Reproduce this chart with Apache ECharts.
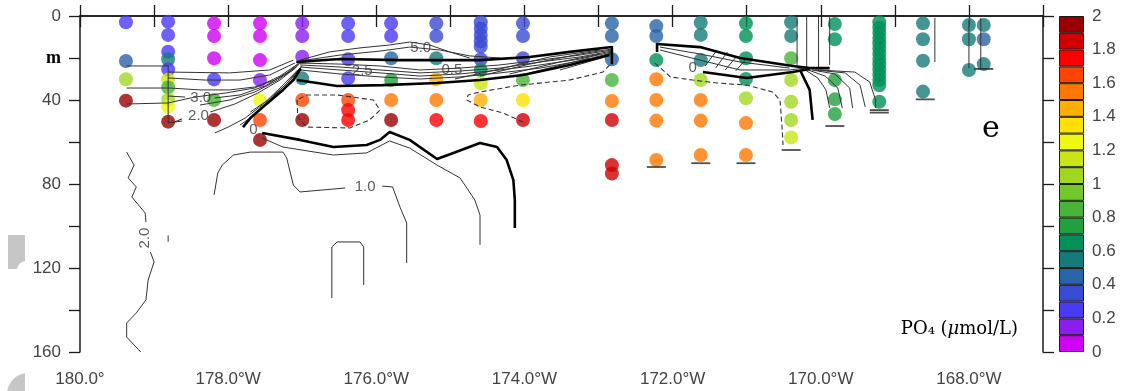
<!DOCTYPE html>
<html>
<head>
<meta charset="utf-8">
<script src="https://cdn.jsdelivr.net/npm/echarts@6/dist/echarts.min.js"></script>
<style>
  html, body { margin: 0; padding: 0; background: #fff; }
  #chart { width: 1126px; height: 391px; }
</style>
</head>
<body>
<div id="chart"></div>
<script>
// Station longitudes (degrees W) along the section
const stationLon = [179.38, 178.81, 178.19, 177.57, 177.0, 176.38, 175.80, 175.19, 174.59, 174.02,
                    172.82, 172.22, 171.62, 171.01, 170.40, 169.81, 169.21, 168.62, 168.0, 167.80];

// Sample depths (m) at each station
const stationDepth = [
  [3, 21.4, 30.1, 40.3],
  [2.7, 9, 17, 20.6, 25.4, 30.2, 34, 39.7, 43.2, 50.3],
  [3.5, 9.5, 20.1, 30.2, 40, 49.5],
  [3.5, 9.5, 21, 30.5, 40, 49.5, 59],
  [3.5, 9.5, 19.4, 29.7, 40, 49.5],
  [3.5, 9.5, 20.6, 29.7, 40, 44.8, 49.5],
  [3.5, 9.5, 20.1, 30.5, 40, 49.5],
  [3.5, 9.5, 20.1, 30.2, 40, 49.5],
  [3, 6, 9, 12, 14.5, 20.6, 25.7, 32, 40, 50],
  [3.5, 9.5, 20.1, 30.5, 40, 49.5],
  [3.5, 9.5, 20.6, 30.5, 40.5, 49.5, 71, 75],
  [4.8, 9.5, 21, 30.1, 40, 49.8, 68.6],
  [3.2, 9, 21, 30.5, 40, 49.8, 66.2],
  [3.5, 9.5, 20.1, 30, 39.2, 51, 66.2],
  [3, 9.5, 20.1, 30.5, 40.8, 49.5, 57.8],
  [3.8, 11.1, 30.5, 39.7, 46.7],
  [3, 5.5, 8, 10.5, 13, 15.5, 18, 20.5, 23, 25.5, 28, 30.5, 33, 40.8],
  [3.5, 11.1, 21.3, 36],
  [4.3, 11.1, 25.7],
  [4.3, 11.1, 22.9]
];

// PO4 (umol/L) at each sample
const stationPO4 = [
  [0.25, 0.45, 1.05, 1.95],
  [0.25, 0.25, 0.25, 0.55, 0.25, 1.15, 0.85, 1.05, 1.25, 1.95],
  [0.05, 0.05, 0.05, 0.25, 0.85, 1.95],
  [0.05, 0.05, 0.05, 0.15, 1.25, 1.65, 1.95],
  [0.15, 0.15, 0.15, 0.55, 1.65, 1.95],
  [0.25, 0.25, 0.25, 0.25, 1.65, 1.75, 1.75],
  [0.25, 0.25, 0.45, 0.75, 1.55, 1.95],
  [0.35, 0.35, 0.55, 1.45, 1.55, 1.75],
  [0.35, 0.35, 0.35, 0.35, 0.35, 0.35, 0.65, 1.15, 1.45, 1.75],
  [0.35, 0.35, 0.35, 0.85, 1.35, 1.85],
  [0.45, 0.45, 0.45, 0.85, 1.55, 1.85, 1.85, 1.85],
  [0.45, 0.45, 0.65, 1.55, 1.55, 1.55, 1.55],
  [0.55, 0.55, 0.55, 1.05, 1.55, 1.55, 1.55],
  [0.65, 0.65, 0.65, 0.65, 1.05, 1.55, 1.55],
  [0.55, 0.55, 0.85, 1.05, 1.05, 1.05, 1.15],
  [0.65, 0.65, 0.75, 0.75, 0.75],
  [0.65, 0.65, 0.65, 0.65, 0.65, 0.65, 0.65, 0.65, 0.65, 0.65, 0.65, 0.65, 0.65, 0.65],
  [0.55, 0.55, 0.55, 0.55],
  [0.55, 0.55, 0.55],
  [0.55, 0.45, 0.55]
];

// Bottom depth markers
const bottomLon = [172.22, 171.62, 171.01, 170.40, 169.81, 169.21, 169.21, 168.59, 167.80];
const bottomDepth = [71.9, 70.1, 70.1, 63.8, 52.4, 44.8, 46.0, 39.7, 25.2];

// Colour scale, 0.1 umol/L per step from 0 to 2
const po4Step = 0.1;
const po4Colors = ['#d000f8', '#8a1ef0', '#4a3af8', '#3a4ad2', '#2864a8', '#177a7a', '#009058',
                   '#22a040', '#4ab43a', '#72c82a', '#a0d820', '#c8e614', '#eef810', '#ffe000',
                   '#ffae00', '#ff7800', '#ff4400', '#ff0000', '#d20000', '#9a0000'];

// Axis tick labels
const lonTicks = [180, 178, 176, 174, 172, 170, 168];
const depthTickLabels = { 0: '0', 20: '{m|m}', 40: '40', 80: '80', 120: '120', 160: '160' };

// Contour lines of the overlaid field, [lon W, depth m]
const thinContours = [
  [[179.37, 23.8], [178.81, 23.8], [178.81, 50.9], [178.62, 50.0]],
  [[179.37, 34.3], [178.79, 34.3], [178.38, 35.2], [177.98, 35.2], [177.64, 33.8], [177.37, 30.5], [177.12, 25.7], [176.99, 21.0]],
  [[179.37, 41.9], [178.81, 41.4], [178.45, 38.6], [178.04, 36.7], [177.64, 34.3], [177.30, 28.6], [177.06, 22.9]],
  [[178.81, 38.1], [178.58, 38.6]],
  [[178.18, 39.0], [177.84, 37.6], [177.50, 33.3], [177.19, 26.7], [177.03, 21.9]],
  [[178.76, 50.9], [178.62, 49.0]],
  [[178.24, 45.7], [177.91, 41.9], [177.60, 36.7], [177.30, 30.5], [177.08, 24.3]],
  [[178.18, 55.7], [178.0, 52.9], [177.77, 48.6], [177.54, 42.4], [177.30, 34.3], [177.06, 25.7]],
  [[178.81, 29.5], [178.31, 30.5], [177.84, 30.5], [177.44, 28.1], [177.10, 22.4]],
  [[178.81, 26.7], [177.98, 27.1], [177.44, 25.7], [177.12, 21.0]],
  [[178.38, 42.4], [177.98, 40.0], [177.64, 36.2], [177.33, 30.5], [177.07, 23.8]],
  [[177.70, 45.7], [177.46, 40.0], [177.23, 32.9], [177.03, 24.8]],
  [[177.84, 51.9], [177.64, 47.1], [177.41, 39.0], [177.16, 30.5], [177.00, 23.8]],
  [[177.03, 22.4], [176.49, 22.9], [175.95, 23.8], [175.41, 25.7], [174.87, 24.8], [174.33, 23.3], [173.79, 21.0], [173.25, 18.6], [172.82, 16.2]],
  [[177.03, 23.3], [176.49, 24.3], [175.95, 25.7], [175.41, 27.1], [174.87, 26.2], [174.33, 24.8], [173.79, 21.9], [173.25, 19.5], [172.82, 16.7]],
  [[177.03, 24.3], [176.49, 25.7], [175.95, 27.1], [175.41, 28.6], [174.87, 27.6], [174.33, 25.7], [173.79, 23.3], [173.25, 20.5], [172.82, 17.1]],
  [[177.03, 25.7], [176.49, 27.6], [175.95, 29.0], [175.41, 30.0], [174.87, 29.0], [174.33, 27.1], [173.79, 24.8], [173.25, 21.4], [172.82, 17.6]],
  [[177.03, 21.0], [176.63, 17.1], [176.22, 15.2], [175.82, 13.8], [175.55, 12.4], [175.28, 13.8], [175.01, 17.1], [174.74, 20.0]],
  [[177.03, 21.4], [176.49, 18.6], [175.95, 16.7], [175.55, 14.8], [175.14, 16.2], [174.74, 19.0], [174.33, 20.0]],
  [[174.94, 30.0], [174.33, 25.2], [173.66, 19.5], [172.98, 16.2]],
  [[174.60, 28.6], [173.93, 22.9], [173.25, 18.1], [172.82, 15.7]],
  [[174.20, 27.6], [173.52, 21.9], [172.98, 18.1]],
  [[173.93, 27.1], [173.12, 20.0]],
  [[173.52, 25.7], [172.91, 19.5]],
  [[177.54, 58.1], [177.26, 62.4], [176.58, 66.2], [176.13, 65.2], [175.82, 59.5], [175.55, 62.9], [175.18, 71.0], [174.87, 77.1], [174.67, 87.6], [174.60, 94.8], [174.60, 109.0]],
  [[178.19, 85.2], [178.14, 74.8], [178.08, 71.0], [177.93, 66.2], [177.70, 64.8], [177.26, 64.8], [177.21, 67.6], [177.12, 80.5], [177.03, 83.8], [176.42, 81.9]],
  [[175.92, 81.0], [175.78, 81.4], [175.68, 91.0], [175.59, 98.6], [175.59, 117.6]],
  [[179.37, 64.8], [179.27, 71.0], [179.35, 77.1], [179.24, 81.4], [179.30, 86.2], [179.12, 93.8], [179.11, 98.1]],
  [[179.05, 112.4], [179.0, 117.1], [179.08, 125.7], [179.11, 135.2], [179.24, 141.4], [179.37, 146.2], [179.37, 152.9], [179.18, 160]],
  [[176.60, 134.3], [176.60, 110.0], [176.53, 107.6], [176.22, 107.6], [176.17, 110.0], [176.17, 128.1]],
  [[178.81, 104.5], [178.81, 107.5]],
  [[172.17, 16.2], [171.63, 21.0], [171.09, 25.7], [170.42, 25.7], [170.22, 24.8]],
  [[172.17, 14.8], [171.63, 18.1], [171.09, 21.9], [170.42, 24.8]],
  [[171.56, 23.8], [171.40, 16.2]],
  [[171.42, 24.8], [171.26, 17.1]],
  [[171.29, 25.7], [171.13, 19.0]],
  [[171.15, 26.2], [171.02, 21.0]],
  [[170.21, 25.7], [170.04, 29.5], [169.93, 35.2], [169.88, 43.8]],
  [[170.17, 25.7], [169.94, 28.6], [169.77, 34.3], [169.71, 43.8]],
  [[170.12, 25.7], [169.81, 27.6], [169.61, 34.3], [169.57, 43.8]],
  [[170.08, 25.7], [169.67, 27.1], [169.47, 32.9], [169.40, 43.3]],
  [[170.04, 25.7], [169.54, 26.7], [169.34, 31.4], [169.26, 40.0], [169.26, 43.8]],
  [[170.32, 0.5], [170.32, 23.3]],
  [[170.19, 0.5], [170.19, 24.3]],
  [[170.03, 0.5], [170.03, 24.8]],
  [[169.88, 0.5], [169.88, 23.3]],
  [[168.46, 0.9], [168.46, 21.9]],
  [[168.00, 1.9], [168.00, 24.8]],
  [[167.84, 1.0], [167.84, 25.2]]
];

const thickContours = [
  [[177.80, 52.9], [177.70, 48.6], [177.53, 43.3], [177.26, 35.2], [177.12, 30.5], [177.02, 25.0]],
  [[177.08, 21.9], [176.49, 20.5], [175.68, 21.0], [175.01, 21.0], [174.60, 21.0], [173.93, 19.5], [173.39, 17.1], [172.82, 14.8]],
  [[177.07, 30.5], [176.53, 33.3], [175.91, 32.9], [175.18, 31.9], [174.60, 30.5], [174.02, 28.1], [173.39, 23.3], [172.85, 18.6]],
  [[172.82, 14.3], [172.82, 23.0]],
  [[177.54, 55.7], [177.03, 59.0], [176.58, 62.4], [176.13, 61.4], [175.95, 59.0], [175.82, 55.2], [175.55, 59.0], [175.18, 68.1], [174.96, 65.2], [174.60, 60.5], [174.37, 62.4], [174.24, 68.6], [174.15, 78.1], [174.13, 87.6], [174.13, 100.9]],
  [[172.21, 12.9], [172.21, 17.1]],
  [[172.21, 13.3], [171.63, 14.8], [171.09, 20.0], [170.38, 23.8], [170.15, 24.8], [169.88, 24.8]],
  [[171.59, 26.7], [171.0, 29.5], [170.38, 26.7], [170.15, 25.2]],
  [[170.28, 25.7], [170.15, 35.2], [170.11, 49.5]]
];

const dashedContours = [
  [[177.07, 40.0], [177.06, 48.1], [176.94, 52.9], [176.36, 53.3], [176.09, 49.5], [175.95, 44.8], [176.04, 40.0], [176.53, 37.6], [176.94, 37.6], [177.07, 40.0]],
  [[172.85, 23.3], [172.94, 26.7], [173.39, 30.5], [174.06, 32.9], [174.60, 36.2], [174.76, 37.6], [174.78, 40.0], [174.60, 43.3], [174.29, 46.2], [174.02, 50.5]],
  [[172.24, 22.4], [172.03, 29.0], [171.73, 30.5], [171.40, 31.9], [171.0, 32.9], [170.65, 36.2], [170.55, 40.0], [170.52, 54.3], [170.51, 61.4]]
];

// Contour value labels [lon W, depth m, text]
const contourLabels = [
  [178.37, 39.0, '3.0'],
  [178.40, 47.6, '2.0'],
  [177.66, 54.3, '0'],
  [176.15, 81.4, '1.0'],
  [175.40, 15.2, '5.0'],
  [176.19, 26.2, '2.5'],
  [174.98, 25.7, '0.5'],
  [171.73, 24.8, '0']
];
const contourLabelsVertical = [[179.12, 105.7, '2.0']];

const chart = echarts.init(document.getElementById('chart'), null, { renderer: 'canvas' });

const axisFont = { fontFamily: '"Liberation Sans", Arial, sans-serif', fontSize: 17, color: '#444' };
const axisLine = { show: true, lineStyle: { color: '#1a1a1a', width: 1.5 } };
const axisTick = { show: true, inside: false, length: 11, lineStyle: { color: '#1a1a1a', width: 1.3 } };
const serifFont = '"DejaVu Serif", "Liberation Serif", serif';

function lonLabel(v) {
  const r = Math.round(v);
  if (!lonTicks.includes(r)) return '';
  return r === 180 ? '180.0°' : r.toFixed(1) + '°W';
}

const series = [];

// Colour bar, one stacked segment per step
po4Colors.forEach((c) => {
  series.push({
    type: 'bar', xAxisIndex: 2, yAxisIndex: 2, stack: 'bar', barWidth: '100%',
    data: [po4Step], silent: true,
    itemStyle: { color: c, borderColor: '#1a1a1a', borderWidth: 1 }
  });
});

// Sample points coloured by PO4
const dots = [];
stationLon.forEach((lon, i) => {
  stationDepth[i].forEach((d, j) => dots.push([lon, d, stationPO4[i][j]]));
});
series.push({
  type: 'scatter', xAxisIndex: 0, yAxisIndex: 0, data: dots, symbol: 'circle', symbolSize: 14,
  silent: true, z: 2,
  itemStyle: { color: (p) => po4Colors[Math.min(po4Colors.length - 1, Math.floor(p.value[2] / po4Step))] }
});

function addLines(list, style) {
  list.forEach((pts) => series.push({
    type: 'line', xAxisIndex: 0, yAxisIndex: 0, data: pts, symbol: 'none', showSymbol: false,
    silent: true, z: 3, lineStyle: style
  }));
}
addLines(thinContours, { color: '#333', width: 1 });
addLines(thickContours, { color: '#000', width: 2.6 });
addLines(dashedContours, { color: '#333', width: 1.1, type: [5, 3] });

// Bottom depth ticks
series.push({
  type: 'scatter', xAxisIndex: 0, yAxisIndex: 0, silent: true, z: 3,
  data: bottomLon.map((lon, i) => [lon, bottomDepth[i]]),
  symbol: 'rect', symbolSize: [19, 1.8], itemStyle: { color: '#222' }
});

// Contour labels
const contourLabelStyle = {
  show: true, position: 'inside', formatter: (p) => p.value[2],
  fontFamily: '"Liberation Sans", Arial, sans-serif', fontSize: 15, color: '#333'
};
series.push({
  type: 'scatter', xAxisIndex: 0, yAxisIndex: 0, silent: true, z: 4,
  data: contourLabels, symbolSize: 1, itemStyle: { color: 'rgba(0,0,0,0)' },
  label: contourLabelStyle
});
series.push({
  type: 'scatter', xAxisIndex: 0, yAxisIndex: 0, silent: true, z: 4,
  data: contourLabelsVertical, symbolSize: 1, itemStyle: { color: 'rgba(0,0,0,0)' },
  label: Object.assign({}, contourLabelStyle, { rotate: 90 })
});

const option = {
  animation: false,
  backgroundColor: '#fff',
  grid: [
    { left: 80, top: 16, width: 963, height: 336, containLabel: false },
    { left: 1059, top: 16, width: 25, height: 336, containLabel: false }
  ],
  xAxis: [
    {
      gridIndex: 0, type: 'value', position: 'bottom', min: 167, max: 180, interval: 1, inverse: true,
      axisLine: axisLine, axisTick: axisTick, splitLine: { show: false },
      axisLabel: Object.assign({ margin: 19, formatter: lonLabel, showMinLabel: true, showMaxLabel: true }, axisFont)
    },
    {
      gridIndex: 0, type: 'value', position: 'top', min: 167, max: 180, interval: 1, inverse: true,
      axisLine: axisLine, axisTick: axisTick, splitLine: { show: false }, axisLabel: { show: false }
    },
    { gridIndex: 1, type: 'category', data: ['PO4'], show: false }
  ],
  yAxis: [
    {
      gridIndex: 0, type: 'value', position: 'left', min: 0, max: 160, interval: 20, inverse: true,
      axisLine: axisLine, axisTick: axisTick, splitLine: { show: false }, z: 5,
      axisLabel: Object.assign({
        margin: 19, showMinLabel: true, showMaxLabel: true,
        formatter: (v) => depthTickLabels[v] || '',
        rich: { m: { fontFamily: '"Liberation Serif", "DejaVu Serif", serif', fontWeight: 'bold', fontSize: 18, color: '#000' } }
      }, axisFont)
    },
    {
      gridIndex: 0, type: 'value', position: 'right', min: 0, max: 160, interval: 20, inverse: true,
      axisLine: axisLine, axisTick: axisTick, splitLine: { show: false }, axisLabel: { show: false }
    },
    {
      gridIndex: 1, type: 'value', position: 'right', min: 0, max: 2, interval: 0.2,
      axisLine: { show: false }, axisTick: { show: false }, splitLine: { show: false },
      axisLabel: Object.assign({ margin: 8, showMinLabel: true, showMaxLabel: true,
        formatter: (v) => String(+v.toFixed(1)) }, axisFont)
    }
  ],
  graphic: {
    z: -1,
    elements: [
      { type: 'rect', shape: { x: 8, y: 235, width: 17, height: 34 }, style: { fill: '#c6c6c6' }, z: -2 },
      { type: 'circle', shape: { cx: 26, cy: 270, r: 9 }, style: { fill: '#fff' }, z: -1 },
      { type: 'circle', shape: { cx: 28, cy: 394, r: 21 }, style: { fill: '#c6c6c6' }, z: -2 },
      { type: 'rect', shape: { x: 25, y: 360, width: 32, height: 31 }, style: { fill: '#fff' }, z: -1 },
      {
        type: 'text', x: 991, y: 129, z: 10,
        style: { text: 'e', fill: '#000', fontFamily: serifFont, fontSize: 30,
                 align: 'center', verticalAlign: 'middle' }
      },
      {
        type: 'text', x: 1018, y: 329, z: 10,
        style: {
          text: '{a|PO₄ (}{i|μ}{a|mol/L)}', align: 'right', verticalAlign: 'middle',
          rich: {
            a: { fontFamily: serifFont, fontSize: 18, color: '#000' },
            i: { fontFamily: serifFont, fontSize: 18, fontStyle: 'italic', color: '#000' }
          }
        }
      }
    ]
  },
  series: series
};

chart.setOption(option);
</script>
</body>
</html>
